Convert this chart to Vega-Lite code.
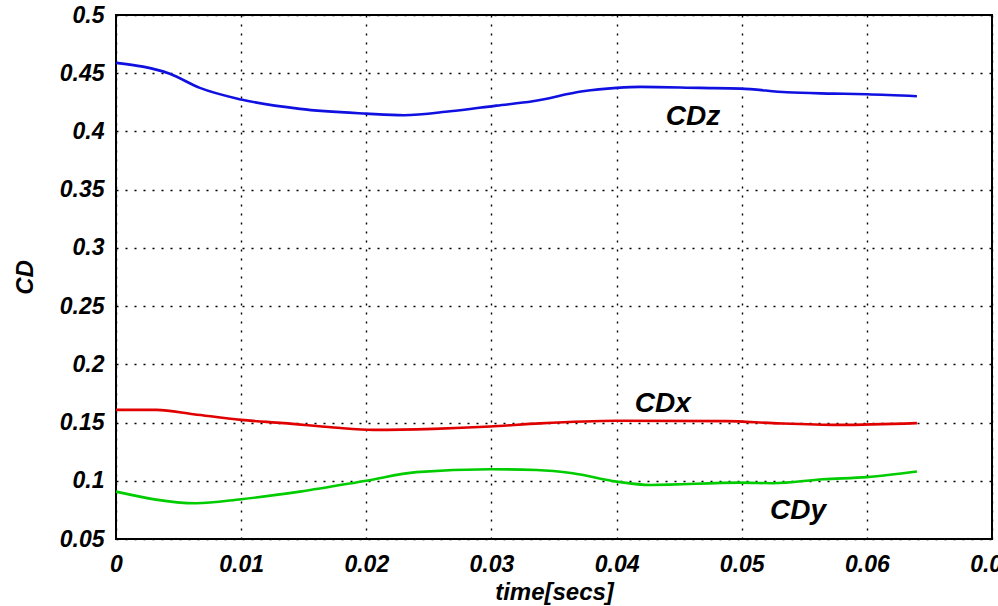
{
  "$schema": "https://vega.github.io/schema/vega-lite/v6.json",
  "autosize": "none",
  "width": 876,
  "height": 524,
  "padding": {"left": 116, "top": 15, "right": 6, "bottom": 67},
  "background": "white",
  "config": {
    "view": {"stroke": "black", "strokeWidth": 2},
    "font": "Liberation Sans",
    "axis": {
      "labelFont": "Liberation Sans",
      "labelFontSize": 23,
      "labelFontWeight": "bold",
      "labelFontStyle": "italic",
      "labelColor": "black",
      "titleFont": "Liberation Sans",
      "titleFontSize": 24,
      "titleFontWeight": "bold",
      "titleFontStyle": "italic",
      "titleColor": "black",
      "grid": true,
      "gridColor": "black",
      "gridDash": [2, 7],
      "gridWidth": 1.4,
      "gridOpacity": 1,
      "domain": false,
      "ticks": false
    }
  },
  "datasets": {
    "curves": [
      {"t": 0, "v": 0.4589, "s": "CDz"},
      {"t": 0.0043, "v": 0.4495, "s": "CDz"},
      {"t": 0.0067, "v": 0.4374, "s": "CDz"},
      {"t": 0.01, "v": 0.4274, "s": "CDz"},
      {"t": 0.0147, "v": 0.4194, "s": "CDz"},
      {"t": 0.02, "v": 0.4153, "s": "CDz"},
      {"t": 0.023, "v": 0.4139, "s": "CDz"},
      {"t": 0.0267, "v": 0.4173, "s": "CDz"},
      {"t": 0.0304, "v": 0.4222, "s": "CDz"},
      {"t": 0.0333, "v": 0.4259, "s": "CDz"},
      {"t": 0.0373, "v": 0.4345, "s": "CDz"},
      {"t": 0.04, "v": 0.4374, "s": "CDz"},
      {"t": 0.0419, "v": 0.4383, "s": "CDz"},
      {"t": 0.0467, "v": 0.4374, "s": "CDz"},
      {"t": 0.0499, "v": 0.4368, "s": "CDz"},
      {"t": 0.0536, "v": 0.4336, "s": "CDz"},
      {"t": 0.0573, "v": 0.4325, "s": "CDz"},
      {"t": 0.06, "v": 0.4319, "s": "CDz"},
      {"t": 0.064, "v": 0.4302, "s": "CDz"},
      {"t": 0, "v": 0.1609, "s": "CDx"},
      {"t": 0.00325, "v": 0.1609, "s": "CDx"},
      {"t": 0.0062, "v": 0.1572, "s": "CDx"},
      {"t": 0.01, "v": 0.1523, "s": "CDx"},
      {"t": 0.0134, "v": 0.1495, "s": "CDx"},
      {"t": 0.0174, "v": 0.1457, "s": "CDx"},
      {"t": 0.0206, "v": 0.1437, "s": "CDx"},
      {"t": 0.0254, "v": 0.1446, "s": "CDx"},
      {"t": 0.0299, "v": 0.1466, "s": "CDx"},
      {"t": 0.0339, "v": 0.1493, "s": "CDx"},
      {"t": 0.04, "v": 0.1515, "s": "CDx"},
      {"t": 0.0488, "v": 0.1512, "s": "CDx"},
      {"t": 0.0525, "v": 0.1495, "s": "CDx"},
      {"t": 0.0578, "v": 0.148, "s": "CDx"},
      {"t": 0.064, "v": 0.1495, "s": "CDx"},
      {"t": 0, "v": 0.0907, "s": "CDy"},
      {"t": 0.0064, "v": 0.0807, "s": "CDy"},
      {"t": 0.01, "v": 0.0842, "s": "CDy"},
      {"t": 0.0147, "v": 0.0907, "s": "CDy"},
      {"t": 0.02, "v": 0.1001, "s": "CDy"},
      {"t": 0.024, "v": 0.1074, "s": "CDy"},
      {"t": 0.0299, "v": 0.1099, "s": "CDy"},
      {"t": 0.0336, "v": 0.1093, "s": "CDy"},
      {"t": 0.0365, "v": 0.1065, "s": "CDy"},
      {"t": 0.04, "v": 0.0993, "s": "CDy"},
      {"t": 0.0427, "v": 0.0964, "s": "CDy"},
      {"t": 0.0499, "v": 0.0984, "s": "CDy"},
      {"t": 0.0525, "v": 0.0979, "s": "CDy"},
      {"t": 0.0565, "v": 0.1013, "s": "CDy"},
      {"t": 0.06, "v": 0.1031, "s": "CDy"},
      {"t": 0.064, "v": 0.1079, "s": "CDy"}
    ],
    "labels": [
      {"t": 0.0461, "v": 0.4055, "s": "CDz"},
      {"t": 0.0437, "v": 0.1591, "s": "CDx"},
      {"t": 0.0545, "v": 0.0672, "s": "CDy"}
    ]
  },
  "layer": [
    {
      "data": {"name": "curves"},
      "mark": {"type": "line", "strokeWidth": 2.6, "interpolate": "monotone"},
      "encoding": {
        "x": {
          "field": "t", "type": "quantitative",
          "scale": {"domain": [0, 0.07], "nice": false, "zero": false},
          "axis": {"values": [0, 0.01, 0.02, 0.03, 0.04, 0.05, 0.06, 0.07], "format": "~g", "title": "time[secs]", "labelPadding": 14, "titlePadding": 4, "labelFlush": false, "labelOverlap": false, "labelBound": false}
        },
        "y": {
          "field": "v", "type": "quantitative",
          "scale": {"domain": [0.05, 0.5], "nice": false, "zero": false},
          "axis": {"values": [0.05, 0.1, 0.15, 0.2, 0.25, 0.3, 0.35, 0.4, 0.45, 0.5], "format": "~g", "title": "CD", "labelPadding": 12, "titlePadding": 22, "labelFlush": false, "labelOverlap": false, "labelBound": false}
        },
        "color": {
          "field": "s", "type": "nominal",
          "scale": {"domain": ["CDz", "CDx", "CDy"], "range": ["#1010e0", "#e00000", "#00cc00"]},
          "legend": null
        }
      }
    },
    {
      "data": {"name": "labels"},
      "mark": {"type": "text", "font": "Liberation Sans", "fontSize": 28, "fontWeight": "bold", "fontStyle": "italic", "color": "black", "align": "center", "baseline": "alphabetic"},
      "encoding": {
        "x": {"field": "t", "type": "quantitative"},
        "y": {"field": "v", "type": "quantitative"},
        "text": {"field": "s", "type": "nominal"}
      }
    }
  ]
}
